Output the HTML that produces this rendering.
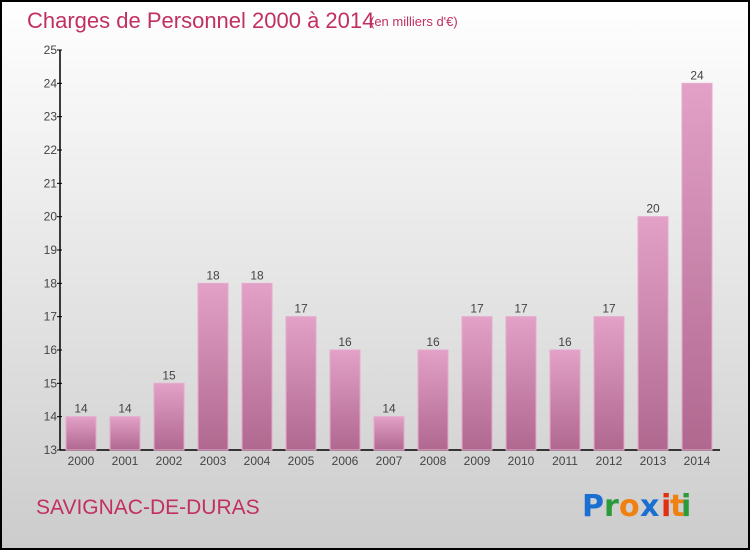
<!DOCTYPE html>
<html><head><meta charset="utf-8"><style>
html,body{margin:0;padding:0}
body{width:750px;height:550px;overflow:hidden;font-family:"Liberation Sans",sans-serif}
</style></head><body>
<svg id="chart" width="750" height="550" xmlns="http://www.w3.org/2000/svg">
<defs>
<linearGradient id="bg" x1="0" y1="0" x2="0" y2="1"><stop offset="0" stop-color="#ffffff"/><stop offset="1" stop-color="#cccccc"/></linearGradient>
<linearGradient id="bar" x1="0" y1="0" x2="0" y2="1"><stop offset="0" stop-color="#e3a1c7"/><stop offset="1" stop-color="#b0688f"/></linearGradient>
</defs>
<rect x="1" y="1" width="748" height="548" fill="url(#bg)" stroke="#000" stroke-width="2"/>
<text x="27" y="28" font-size="22" fill="#c2305f">Charges de Personnel 2000 à 2014</text>
<text x="370" y="26" font-size="13" fill="#c2305f">(en milliers d'€)</text>
<text x="36" y="514" font-size="21" fill="#c2305f">SAVIGNAC-DE-DURAS</text>
<g font-size="30" font-weight="bold" font-family="'DejaVu Sans',sans-serif">
<text x="582" y="516" fill="#1a6fd0">P</text><text x="604" y="516" fill="#2a9a3a">r</text><text x="619" y="516" fill="#f08010">o</text><text x="640" y="516" fill="#1a6fd0">x</text><text x="661" y="516" fill="#e03010">i</text><text x="670" y="516" fill="#f08010">t</text><text x="681" y="516" fill="#2a9a3a">i</text>
</g>
<g id="axes"></g>
<g id="bars"></g>
</svg>
<script>
const years=["2000","2001","2002","2003","2004","2005","2006","2007","2008","2009","2010","2011","2012","2013","2014"];
const values=[14,14,15,18,18,17,16,14,16,17,17,16,17,20,24];
const yTicks=[13,14,15,16,17,18,19,20,21,22,23,24,25];
const NS="http://www.w3.org/2000/svg";
const x0=60,x1=720,yTop=50,yBot=450,yMin=13,yMax=25;
const y=v=>yBot-(v-yMin)/(yMax-yMin)*(yBot-yTop);
const step=(x1-x0)/years.length;
const xc=i=>x0+step*(i+0.5)-1;
function mk(t,a,p){const e=document.createElementNS(NS,t);for(const k in a)e.setAttribute(k,a[k]);p.appendChild(e);return e;}
const ax=document.getElementById('axes'),bg=document.getElementById('bars');
let l=mk('line',{x1:x0,y1:yTop,x2:x0,y2:yBot,stroke:'#000','stroke-width':1.5},ax);

l=mk('line',{x1:x0,y1:yBot,x2:x1,y2:yBot,stroke:'#000','stroke-width':1.5},ax);

yTicks.forEach(v=>{
 const t=mk('line',{x1:x0-3,y1:y(v),x2:x0+2,y2:y(v),stroke:'#000'},ax);
 
 const tx=mk('text',{x:x0-3,y:y(v)+4,'font-size':12,'text-anchor':'end',fill:'#444'},ax);
 tx.textContent=v;
 
});
years.forEach((yr,i)=>{
 const v=values[i],c=xc(i);
 const r=mk('rect',{x:c-15,y:y(v),width:30,height:yBot-y(v),fill:'url(#bar)',stroke:'#e6aacd','stroke-width':1},bg);
 
 const vt=mk('text',{x:c,y:y(v)-4,'font-size':12,'text-anchor':'middle',fill:'#444'},bg);
 vt.textContent=v;
 
 const xt=mk('text',{x:c,y:yBot+15,'font-size':12,'text-anchor':'middle',fill:'#444'},bg);
 xt.textContent=yr;
 
});
</script>
</body></html>
